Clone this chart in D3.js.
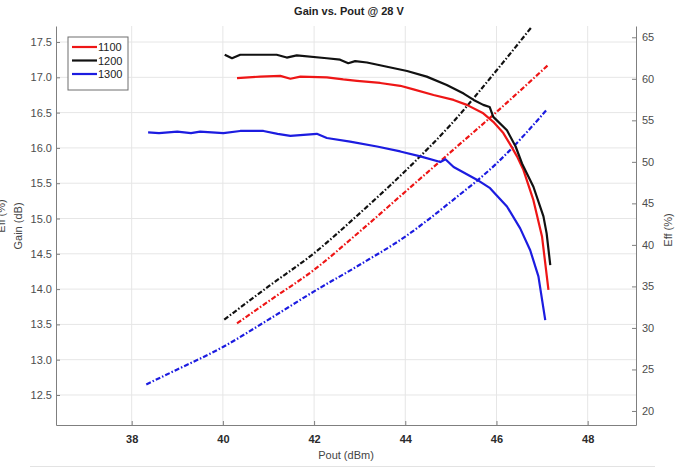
<!DOCTYPE html>
<html>
<head>
<meta charset="utf-8">
<script src="https://cdn.jsdelivr.net/npm/d3@7"></script>
<style>
  body { margin: 0; background: #fff; }
  svg { font-family: "Liberation Sans", Arial, sans-serif; }
  .grid line { stroke: #e6e6e6; stroke-width: 1; }
  .axis path, .axis line { stroke: #7f7f7f; }
  .axis text { fill: #4d4d4d; font-size: 11px; }
  .xaxis text { fill: #2b2b2b; font-weight: bold; }
</style>
</head>
<body>
<svg id="chart" width="684" height="468"></svg>
<script>
// ticks
var xTicks = [38, 40, 42, 44, 46, 48];
var gainTicks = [12.5, 13, 13.5, 14, 14.5, 15, 15.5, 16, 16.5, 17, 17.5];
var effTicks = [20, 25, 30, 35, 40, 45, 50, 55, 60, 65];

var freqs = ["1100", "1200", "1300"];
var colors = ["#ee1616", "#111111", "#1c1ce0"];

// gain vs pout  [pout dBm, gain dB]
var gain1100 = [[40.31,16.99],[40.82,17.01],[41.26,17.02],[41.48,16.98],[41.70,17.01],[42.28,17.00],[42.64,16.97],
  [42.94,16.95],[43.45,16.92],[43.89,16.88],[44.18,16.83],[44.62,16.75],[45.06,16.68],[45.35,16.61],[45.71,16.49],
  [45.93,16.37],[46.15,16.21],[46.30,16.05],[46.45,15.88],[46.59,15.69],[46.81,15.26],[47.00,14.74],[47.14,13.99]];
var gain1200 = [[40.04,17.32],[40.20,17.27],[40.38,17.32],[41.18,17.32],[41.40,17.28],[41.62,17.31],[42.28,17.27],
  [42.57,17.25],[42.75,17.20],[42.90,17.23],[43.16,17.21],[43.60,17.15],[44.04,17.09],[44.47,17.01],[44.91,16.89],
  [45.28,16.77],[45.50,16.68],[45.71,16.61],[45.85,16.58],[45.93,16.44],[46.23,16.25],[46.42,16.02],[46.56,15.78],
  [46.81,15.45],[47.03,15.03],[47.10,14.79],[47.18,14.34]];
var gain1300 = [[38.36,16.22],[38.60,16.21],[39.00,16.23],[39.30,16.21],[39.50,16.23],[40.01,16.21],[40.38,16.24],
  [40.89,16.24],[41.20,16.20],[41.48,16.17],[42.06,16.20],[42.28,16.14],[42.79,16.09],[43.38,16.02],[43.89,15.95],
  [44.33,15.88],[44.77,15.80],[44.88,15.84],[45.06,15.73],[45.57,15.55],[45.86,15.43],[45.93,15.38],[46.23,15.17],
  [46.52,14.86],[46.74,14.55],[46.92,14.18],[47.07,13.56]];

// efficiency vs pout  [pout dBm, eff %]
var eff1100 = [[40.31,30.55],[41,33.2],[42,37.0],[43,41.6],[44,46.4],[45,51.2],[46,56.0],[47.12,61.6]];
var eff1200 = [[40.03,31.0],[41,35.0],[42,39.0],[43,43.8],[44,48.9],[45,54.5],[46,61.0],[46.78,66.3]];
var eff1300 = [[38.32,23.2],[39,25.0],[40,27.7],[41,31.0],[42,34.4],[43,37.6],[44,41.0],[45,45.2],[46,49.8],
  [46.26,51.2],[47.09,56.2]];

var gainData = [gain1100, gain1200, gain1300];
var effData = [eff1100, eff1200, eff1300];

var svg = d3.select("#chart");
var m = {left: 56, right: 636, top: 26, bottom: 425};

var x = d3.scaleLinear().domain([36.34, 49.06]).range([m.left, m.right]);
var yG = d3.scaleLinear().domain([12.075, 17.727]).range([m.bottom, m.top]);
var yE = d3.scaleLinear().domain([18.31, 66.36]).range([m.bottom, m.top]);

// grid
var grid = svg.append("g").attr("class", "grid");
grid.selectAll(".gx").data(xTicks).enter().append("line")
  .attr("x1", d => x(d)).attr("x2", d => x(d))
  .attr("y1", m.top).attr("y2", m.bottom);
grid.selectAll(".gy").data(gainTicks).enter().append("line")
  .attr("x1", m.left).attr("x2", m.right)
  .attr("y1", d => yG(d)).attr("y2", d => yG(d));

// axes
svg.append("g").attr("class", "axis xaxis")
  .attr("transform", "translate(0," + m.bottom + ")")
  .call(d3.axisBottom(x).tickValues(xTicks).tickSize(-4).tickPadding(10).tickSizeOuter(0));
svg.append("g").attr("class", "axis")
  .attr("transform", "translate(" + m.left + ",0)")
  .call(d3.axisLeft(yG).tickValues(gainTicks).tickSize(-4).tickPadding(4).tickSizeOuter(0));
svg.append("g").attr("class", "axis")
  .attr("transform", "translate(" + m.right + ",0)")
  .call(d3.axisRight(yE).tickValues(effTicks).tickSize(-4).tickPadding(6).tickSizeOuter(0));

// curves
var plot = svg.append("g");
var gainLine = d3.line().x(d => x(d[0])).y(d => yG(d[1]));
var effLine = d3.line().x(d => x(d[0])).y(d => yE(d[1])).curve(d3.curveMonotoneX);

plot.selectAll(".eff").data(effData).enter().append("path")
  .attr("fill", "none")
  .attr("stroke", (d, i) => colors[i])
  .attr("stroke-width", 2.2)
  .attr("stroke-dasharray", "5,2,1.5,2")
  .attr("d", effLine);

plot.selectAll(".gain").data(gainData).enter().append("path")
  .attr("fill", "none")
  .attr("stroke", (d, i) => colors[i])
  .attr("stroke-width", 2.2)
  .attr("stroke-linejoin", "round")
  .attr("d", gainLine);

// legend
var leg = svg.append("g").attr("transform", "translate(68,37)");
leg.append("rect").attr("width", 60).attr("height", 53)
  .attr("fill", "#fff").attr("stroke", "#6e6e6e").attr("stroke-width", 1);
freqs.forEach((f, i) => {
  var yy = 10 + i * 13.5;
  leg.append("line").attr("x1", 4).attr("x2", 29).attr("y1", yy).attr("y2", yy)
    .attr("stroke", colors[i]).attr("stroke-width", 2.2);
  leg.append("text").attr("x", 30).attr("y", yy + 4)
    .attr("font-size", 11).attr("fill", "#222").text(f);
});

// titles
svg.append("text").attr("x", 349).attr("y", 15).attr("text-anchor", "middle")
  .attr("font-size", 11).attr("font-weight", "bold").attr("fill", "#222")
  .text("Gain vs. Pout @ 28 V");
svg.append("text").attr("x", 346).attr("y", 459).attr("text-anchor", "middle")
  .attr("font-size", 11).attr("fill", "#444").text("Pout (dBm)");
svg.append("text").attr("transform", "translate(22,226) rotate(-90)")
  .attr("text-anchor", "middle").attr("font-size", 11).attr("fill", "#444").text("Gain (dB)");
svg.append("text").attr("transform", "translate(5,216) rotate(-90)")
  .attr("text-anchor", "middle").attr("font-size", 11).attr("fill", "#444").text("Eff (%)");
svg.append("text").attr("transform", "translate(672,230) rotate(-90)")
  .attr("text-anchor", "middle").attr("font-size", 11).attr("fill", "#444").text("Eff (%)");

// faint separator under the figure
svg.append("line").attr("x1", 30).attr("x2", 655).attr("y1", 466.5).attr("y2", 466.5)
  .attr("stroke", "#e3e3e3").attr("stroke-width", 1);
</script>
</body>
</html>
